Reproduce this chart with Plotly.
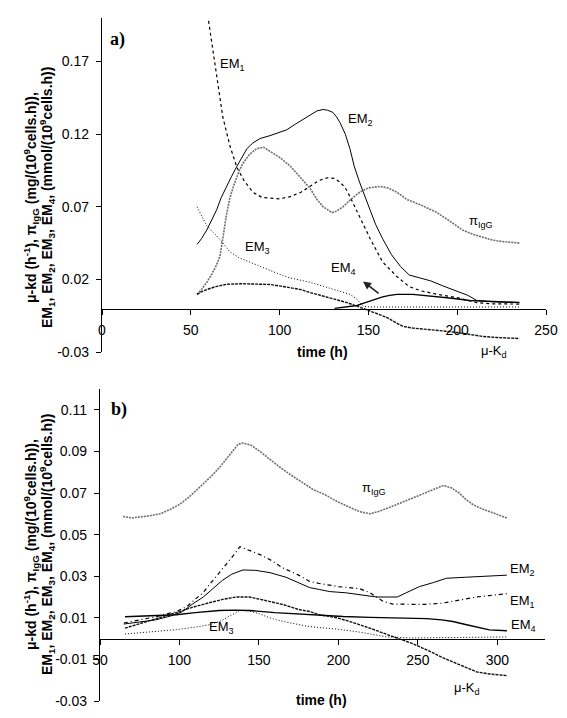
import plotly.graph_objects as go

# The page body has an 8px default margin, so the figure is 8px smaller and pixel
# positions below (measured on the 567x718 reference) are shifted accordingly.
PAGE_W, PAGE_H, OFF = 567, 718, 8
W, H = PAGE_W - OFF, PAGE_H - OFF

def PX(px):
    return (px - OFF) / W

def PY(py):
    return 1 - (py - OFF) / H

# ---------------- Panel a data ----------------
a_em1_t = [60, 62.5, 64.6, 68, 72, 76, 80, 85, 90, 95, 100, 106, 112, 117, 122, 127, 131, 134, 137, 139.6, 142, 145, 151, 158, 166, 173, 180, 189, 200, 211, 220, 235]
a_em1_v = [0.198, 0.177, 0.16, 0.132, 0.112, 0.097, 0.088, 0.080, 0.0765, 0.076, 0.0755, 0.077, 0.080, 0.084, 0.088, 0.090, 0.0895, 0.087, 0.083, 0.077, 0.071, 0.064, 0.048, 0.032, 0.022, 0.015, 0.012, 0.0097, 0.0074, 0.004, 0.0032, 0.003]

a_em2_t = [53.5, 56, 59, 62, 64.6, 67, 70, 73, 76, 79, 81.6, 85, 89, 94.6, 99, 104, 109, 113, 117, 121, 124.5, 127, 130, 132, 134, 137, 139.6, 142, 145, 148, 151, 154, 158, 163, 168, 173, 179, 185, 192, 200, 206, 211, 220, 235]
a_em2_v = [0.044, 0.048, 0.054, 0.061, 0.068, 0.076, 0.084, 0.091, 0.098, 0.105, 0.110, 0.114, 0.117, 0.119, 0.121, 0.123, 0.127, 0.130, 0.133, 0.136, 0.137, 0.1365, 0.135, 0.132, 0.128, 0.120, 0.110, 0.098, 0.087, 0.077, 0.068, 0.058, 0.048, 0.037, 0.029, 0.023, 0.021, 0.019, 0.0155, 0.012, 0.009, 0.0055, 0.0045, 0.004]

a_pi_t = [53.5, 56, 59, 62, 64.5, 66.4, 68, 70, 72, 74, 77, 79.4, 83, 87, 91, 94.6, 100, 106, 112, 117, 121, 124.5, 129.5, 132, 135.7, 140, 145, 150, 156.5, 161, 166, 171.7, 180, 188.6, 196, 203, 209, 214.5, 220, 226, 235]
a_pi_v = [0.0097, 0.013, 0.018, 0.024, 0.030, 0.036, 0.048, 0.064, 0.076, 0.084, 0.094, 0.100, 0.106, 0.110, 0.111, 0.108, 0.104, 0.098, 0.090, 0.083, 0.075, 0.070, 0.066, 0.067, 0.070, 0.075, 0.080, 0.083, 0.084, 0.083, 0.080, 0.075, 0.071, 0.066, 0.060, 0.054, 0.051, 0.049, 0.047, 0.046, 0.045]

a_em3_t = [53.5, 56, 59, 62, 64.6, 68, 72, 77, 83, 88, 94.6, 100, 106, 117, 128, 134, 139.6, 143, 145, 147, 151, 170, 200, 235]
a_em3_v = [0.070, 0.064, 0.057, 0.053, 0.050, 0.045, 0.039, 0.035, 0.032, 0.029, 0.026, 0.0235, 0.021, 0.018, 0.014, 0.012, 0.0097, 0.007, 0.004, 0.0015, 0.001, 0.001, 0.001, 0.001]

a_em4_t = [131, 136, 140, 143.6, 147, 151, 155, 158, 162, 166, 175, 182, 188.6, 197, 207, 216, 226, 235]
a_em4_v = [0.0, 0.0007, 0.0015, 0.002, 0.0035, 0.005, 0.007, 0.008, 0.009, 0.0097, 0.0097, 0.009, 0.008, 0.007, 0.0055, 0.005, 0.0048, 0.0041]

a_mukd_t = [53.5, 56, 59, 64, 70, 78, 85, 94.6, 100, 106, 112, 117, 123, 128, 133, 138, 144, 147, 151, 155, 160, 165, 169.5, 175, 184.7, 192, 200, 207, 214.5, 222, 235]
a_mukd_v = [0.0097, 0.0115, 0.013, 0.015, 0.0166, 0.017, 0.0168, 0.0165, 0.0155, 0.0145, 0.013, 0.011, 0.009, 0.0076, 0.0058, 0.004, 0.0014, 0.0, -0.002, -0.004, -0.006, -0.0095, -0.0124, -0.0135, -0.0145, -0.0155, -0.0166, -0.018, -0.0193, -0.020, -0.0207]

# ---------------- Panel b data ----------------
b_pi_t = [64.5, 70, 75, 81, 87.7, 94, 100, 106, 113, 121, 126, 130, 134, 137, 140, 145, 150.6, 157, 163, 169.5, 177, 184, 192, 199, 206, 213.5, 220, 226, 232, 240, 247, 255, 262, 266, 271, 276, 280, 284.6, 290, 295, 300, 306]
b_pi_v = [0.0587, 0.058, 0.0585, 0.059, 0.060, 0.062, 0.0645, 0.068, 0.073, 0.0788, 0.083, 0.087, 0.091, 0.0935, 0.094, 0.093, 0.090, 0.086, 0.0825, 0.079, 0.075, 0.0717, 0.069, 0.066, 0.0635, 0.061, 0.060, 0.0613, 0.063, 0.0655, 0.068, 0.0705, 0.0726, 0.0736, 0.0725, 0.070, 0.067, 0.0645, 0.0625, 0.061, 0.0595, 0.058]

b_em1_t = [65, 75, 85, 98, 104.7, 110, 114.8, 120, 125, 130, 134, 138, 144, 150.6, 158, 165, 175, 182, 188, 200, 213.5, 220, 228, 234, 245, 255, 265, 272, 280, 287, 295, 306]
b_em1_v = [0.0075, 0.009, 0.0105, 0.013, 0.0154, 0.019, 0.022, 0.027, 0.0316, 0.036, 0.040, 0.0442, 0.0425, 0.0404, 0.0375, 0.034, 0.0305, 0.0275, 0.0265, 0.025, 0.024, 0.022, 0.018, 0.0166, 0.0165, 0.0165, 0.017, 0.018, 0.019, 0.020, 0.0207, 0.0216]

b_em2_t = [65, 75, 85, 95, 102, 108, 115, 121, 127, 133, 140, 148, 157, 167, 175, 182, 188, 194.6, 205, 215, 224, 237, 244, 251, 260, 268, 280, 290, 306]
b_em2_v = [0.007, 0.008, 0.009, 0.011, 0.013, 0.0165, 0.020, 0.024, 0.028, 0.031, 0.033, 0.0328, 0.0317, 0.0295, 0.027, 0.0245, 0.0236, 0.0226, 0.022, 0.021, 0.020, 0.020, 0.0225, 0.025, 0.027, 0.029, 0.0295, 0.030, 0.0305]

b_mukd_t = [65.7, 75, 85, 98, 108, 119, 128, 136, 144, 150, 157, 165, 175, 182, 188, 199, 206, 213.5, 221, 228, 235, 240.5, 247, 253, 260, 266, 274, 281, 287, 295, 306]
b_mukd_v = [0.005, 0.007, 0.0095, 0.0125, 0.015, 0.0173, 0.019, 0.020, 0.020, 0.019, 0.0178, 0.0164, 0.014, 0.013, 0.0115, 0.010, 0.0085, 0.0067, 0.0047, 0.0027, 0.001, -0.0007, -0.0025, -0.0045, -0.007, -0.0093, -0.012, -0.014, -0.016, -0.017, -0.0178]

b_em4_t = [65.7, 80, 98, 110, 125, 135, 144, 160, 175, 188, 203, 220, 240, 255.6, 265, 272, 280, 287, 295, 306]
b_em4_v = [0.0105, 0.011, 0.0115, 0.0125, 0.0135, 0.0137, 0.0135, 0.0125, 0.0118, 0.0112, 0.0106, 0.0102, 0.0100, 0.0096, 0.009, 0.0082, 0.0068, 0.0055, 0.0042, 0.0038]

b_em3_t = [65.7, 80, 98, 110, 119, 126, 132, 138, 144, 150, 155, 161, 170, 180, 188, 200, 213.5, 222, 230.5, 245, 270, 306]
b_em3_v = [0.0022, 0.003, 0.0043, 0.0055, 0.0067, 0.0085, 0.011, 0.0135, 0.0133, 0.012, 0.0105, 0.009, 0.0075, 0.006, 0.0053, 0.0045, 0.0031, 0.002, 0.0008, 0.0003, 0.0005, 0.0008]

# Tick labels
a_yticks = [-0.03, 0.02, 0.07, 0.12, 0.17]
a_ytext = ["-0.03", "0.02", "0.07", "0.12", "0.17"]
a_xticks = [0, 50, 100, 150, 200, 250]
b_yticks = [-0.03, -0.01, 0.01, 0.03, 0.05, 0.07, 0.09, 0.11]
b_ytext = ["-0.03", "-0.01", "0.01", "0.03", "0.05", "0.07", "0.09", "0.11"]
b_xticks = [50, 100, 150, 200, 250, 300]

FONT = "Liberation Sans, Arial, sans-serif"

STY = {
    "em1a": dict(color="black", width=1.2, dash="3px,3px"),
    "em1b": dict(color="black", width=1.2, dash="4px,3px,1px,3px"),
    "em2": dict(color="black", width=1.0),
    "em3": dict(color="black", width=1.0, dash="1px,2px"),
    "em4": dict(color="black", width=1.4),
    "pi": dict(color="#6e6e6e", width=1.6, dash="2px,1px"),
    "mukd": dict(color="#111111", width=1.4, dash="3px,1px"),
}

fig = go.Figure()

def add(t, v, key, xa, ya):
    fig.add_trace(go.Scatter(x=t, y=v, mode="lines", line=STY[key],
                             xaxis=xa, yaxis=ya, showlegend=False, hoverinfo="skip"))

add(a_em1_t, a_em1_v, "em1a", "x", "y")
add(a_em2_t, a_em2_v, "em2", "x", "y")
add(a_pi_t, a_pi_v, "pi", "x", "y")
add(a_em3_t, a_em3_v, "em3", "x", "y")
add(a_em4_t, a_em4_v, "em4", "x", "y")
add(a_mukd_t, a_mukd_v, "mukd", "x", "y")

add(b_pi_t, b_pi_v, "pi", "x2", "y2")
add(b_em1_t, b_em1_v, "em1b", "x2", "y2")
add(b_em2_t, b_em2_v, "em2", "x2", "y2")
add(b_mukd_t, b_mukd_v, "mukd", "x2", "y2")
add(b_em4_t, b_em4_v, "em4", "x2", "y2")
add(b_em3_t, b_em3_v, "em3", "x2", "y2")

tickfont = dict(family=FONT, size=14, color="black")
common_x = dict(showgrid=False, zeroline=False, showline=True, linecolor="black", linewidth=1.3,
                ticks="outside", ticklen=5, tickcolor="black", tickwidth=1, tickfont=tickfont,
                anchor="free", automargin=False, ticklabeloverflow="allow", ticklabelstandoff=3)
common_y = dict(showgrid=False, zeroline=False, showline=True, linecolor="black", linewidth=1.3,
                ticks="outside", ticklen=5, tickcolor="black", tickwidth=1, tickfont=tickfont,
                automargin=False, ticklabeloverflow="allow", ticklabelstandoff=4)

fig.update_layout(
    width=W, height=H,
    margin=dict(l=0, r=0, t=0, b=0),
    paper_bgcolor="white", plot_bgcolor="rgba(0,0,0,0)",
    xaxis=dict(domain=[PX(102), PX(546)], range=[0, 250], tickvals=a_xticks,
               position=PY(309), **common_x),
    yaxis=dict(domain=[PY(352), PY(18)], range=[-0.03, 0.2], anchor="x",
               tickvals=a_yticks, ticktext=a_ytext, **common_y),
    xaxis2=dict(domain=[PX(100), PX(545)], range=[50, 330], tickvals=b_xticks,
                position=PY(638.6), **common_x),
    yaxis2=dict(domain=[PY(701), PY(389)], range=[-0.03, 0.12], anchor="x2",
                tickvals=b_yticks, ticktext=b_ytext, **common_y),
)

lab = dict(family=FONT, size=13, color="black")
ann = []

def t(x, y, s, xr, yr, font=lab, **kw):
    ann.append(dict(x=x, y=y, xref=xr, yref=yr, text=s, showarrow=False, font=font, **kw))

serif = dict(family="Liberation Serif, Times New Roman, serif", size=18, color="black")
bold14 = dict(family=FONT, size=14, color="black")
# panel a labels
t(9, 0.185, "<b>a)</b>", "x", "y", font=serif)
t(73.2, 0.168, "EM<sub>1</sub>", "x", "y")
t(145.3, 0.130, "EM<sub>2</sub>", "x", "y")
t(87.8, 0.042, "EM<sub>3</sub>", "x", "y")
t(135.7, 0.0276, "EM<sub>4</sub>", "x", "y")
t(213.4, 0.060, "π<sub>IgG</sub>", "x", "y")
t(220.7, -0.0297, "μ-K<sub>d</sub>", "x", "y")
t(124.4, -0.0297, "<b>time (h)</b>", "x", "y", font=bold14)
ann.append(dict(x=147, y=0.0186, xref="x", yref="y", ax=17, ay=13, text="", showarrow=True,
                arrowhead=2, arrowsize=1, arrowwidth=1.6, arrowcolor="#222"))

# panel b labels
t(62, 0.110, "<b>b)</b>", "x2", "y2", font=serif)
t(222.3, 0.0724, "π<sub>IgG</sub>", "x2", "y2")
t(316, 0.033, "EM<sub>2</sub>", "x2", "y2")
t(316, 0.0176, "EM<sub>1</sub>", "x2", "y2")
t(316.5, 0.0065, "EM<sub>4</sub>", "x2", "y2")
t(126.7, 0.0051, "EM<sub>3</sub>", "x2", "y2")
t(280.8, -0.0238, "μ-K<sub>d</sub>", "x2", "y2")
t(189.6, -0.0295, "<b>time (h)</b>", "x2", "y2", font=bold14)

# y-axis titles (two lines each, rotated)
line1 = "<b>μ-kd (h<sup>-1</sup>), π<sub>IgG</sub> (mg/(10<sup>9</sup>cells.h)),</b>"
line2 = "<b>EM<sub>1</sub>, EM<sub>2</sub>, EM<sub>3</sub>, EM<sub>4</sub>, (mmol/(10<sup>9</sup>cells.h))</b>"
tf = dict(family=FONT, size=14, color="black")
for cy in (198, 545):
    ann.append(dict(x=PX(31), y=PY(cy), xref="paper", yref="paper", text=line1, textangle=-90,
                    showarrow=False, font=tf, xanchor="center", yanchor="middle"))
    ann.append(dict(x=PX(47), y=PY(cy), xref="paper", yref="paper", text=line2, textangle=-90,
                    showarrow=False, font=tf, xanchor="center", yanchor="middle"))

fig.update_layout(annotations=ann)
fig.write_html("out.html")
